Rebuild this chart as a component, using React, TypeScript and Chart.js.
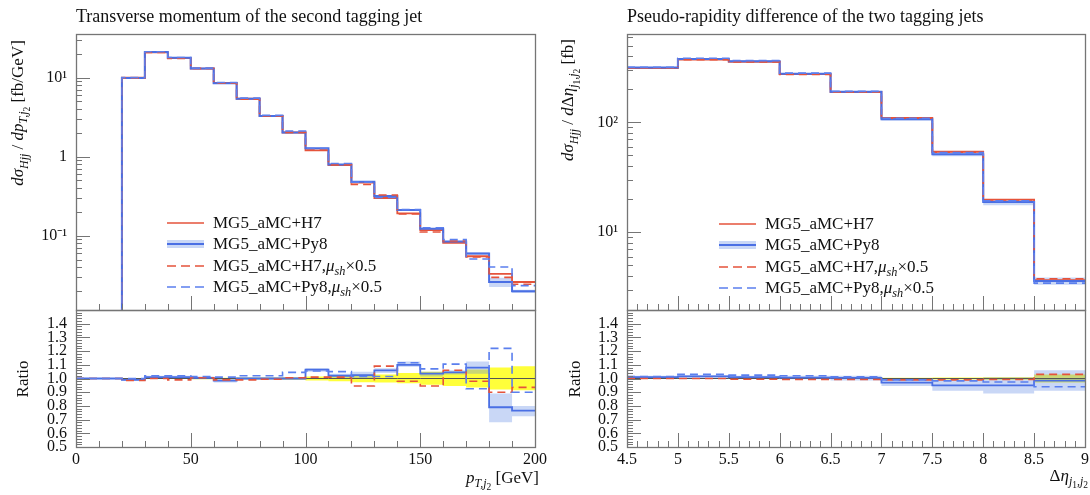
import React, { useEffect, useRef } from "react";
import { Chart, registerables } from "chart.js";

Chart.register(...registerables);

const FONT = "'Liberation Serif', 'Times New Roman', serif";
const W = 1090;
const H = 495;

// ---------------- Left panel: transverse momentum of the second tagging jet ----------------
const PT_EDGES = [0, 10, 20, 30, 40, 50, 60, 70, 80, 90, 100, 110, 120, 130, 140, 150, 160, 170, 180, 190, 200];
// MG5_aMC+H7 differential cross section [fb/GeV]
const PT_H7 = [0, 0, 10.0, 20.8, 17.6, 13.0, 8.6, 5.4, 3.28, 2.02, 1.2, 0.78, 0.47, 0.3, 0.192, 0.118, 0.081, 0.055, 0.033, 0.026];
// ratios to MG5_aMC+H7
const PT_R_H7 = [1, 1, 1, 1, 1, 1, 1, 1, 1, 1, 1, 1, 1, 1, 1, 1, 1, 1, 1, 1];
const PT_R_PY8 = [1, 1, 0.99, 1.01, 1.01, 1.005, 0.985, 1.0, 1.0, 1.0, 1.065, 1.02, 1.025, 1.06, 1.1, 1.035, 1.045, 1.08, 0.79, 0.765];
const PT_R_H7_HALF = [1, 1, 0.985, 1.0, 0.99, 1.005, 0.99, 0.99, 0.995, 1.005, 1.01, 1.01, 0.945, 1.09, 0.98, 0.945, 1.06, 0.98, 0.9, 0.935];
const PT_R_PY8_HALF = [1, 1, 1.0, 1.02, 1.02, 1.015, 1.01, 1.02, 1.02, 1.045, 1.055, 1.05, 1.015, 1.015, 1.115, 1.07, 1.105, 0.925, 1.22, 0.9];
const PT_H7_UNC_LO = [1, 1, 0.997, 0.997, 0.996, 0.995, 0.994, 0.993, 0.992, 0.99, 0.985, 0.98, 0.973, 0.97, 0.965, 0.955, 0.945, 0.935, 0.92, 0.915];
const PT_H7_UNC_HI = [1, 1, 1.003, 1.003, 1.004, 1.005, 1.006, 1.007, 1.008, 1.01, 1.015, 1.02, 1.027, 1.03, 1.04, 1.05, 1.05, 1.065, 1.08, 1.09];
const PT_PY8_UNC_LO = [1, 1, 0.985, 1.0, 1.0, 0.995, 0.97, 0.99, 0.99, 0.99, 1.05, 1.005, 1.0, 1.04, 1.085, 1.015, 1.03, 1.035, 0.68, 0.725];
const PT_PY8_UNC_HI = [1, 1, 0.995, 1.02, 1.02, 1.015, 1.0, 1.01, 1.01, 1.01, 1.075, 1.035, 1.05, 1.075, 1.125, 1.05, 1.06, 1.125, 0.89, 0.8];
const PT_X_TICKS = [0, 50, 100, 150, 200];
const PT_X_LABELS = ["0", "50", "100", "150", "200"];
const PT_Y_TICKS = [0.1, 1, 10];
const PT_Y_LABELS = ["10\u207B\u00B9", "1", "10\u00B9"];

// ---------------- Right panel: pseudo-rapidity difference of the two tagging jets ----------------
const DETA_EDGES = [4.5, 5, 5.5, 6, 6.5, 7, 7.5, 8, 8.5, 9];
// MG5_aMC+H7 differential cross section [fb]
const DETA_H7 = [312, 372, 356, 275, 189, 110, 54, 19.8, 3.66];
const DETA_R_H7 = [1, 1, 1, 1, 1, 1, 1, 1, 1];
const DETA_R_PY8 = [1.01, 1.015, 1.01, 1.007, 1.005, 0.97, 0.95, 0.95, 0.985];
const DETA_R_H7_HALF = [1.0, 1.0, 0.995, 0.993, 0.993, 0.99, 0.99, 0.993, 1.03];
const DETA_R_PY8_HALF = [1.015, 1.03, 1.025, 1.02, 1.012, 0.99, 0.983, 0.975, 0.94];
const DETA_H7_UNC_LO = [0.997, 0.997, 0.997, 0.997, 0.997, 0.995, 0.993, 0.99, 0.97];
const DETA_H7_UNC_HI = [1.003, 1.003, 1.003, 1.003, 1.003, 1.005, 1.007, 1.01, 1.03];
const DETA_PY8_UNC_LO = [1.0, 1.005, 1.0, 0.995, 0.985, 0.945, 0.91, 0.89, 0.91];
const DETA_PY8_UNC_HI = [1.02, 1.025, 1.02, 1.02, 1.02, 0.995, 0.99, 1.01, 1.06];
const DETA_X_TICKS = [4.5, 5, 5.5, 6, 6.5, 7, 7.5, 8, 8.5, 9];
const DETA_X_LABELS = ["4.5", "5", "5.5", "6", "6.5", "7", "7.5", "8", "8.5", "9"];
const DETA_Y_TICKS = [10, 100];
const DETA_Y_LABELS = ["10\u00B9", "10\u00B2"];

// ratio axis
const RATIO_TICKS = [0.5, 0.6, 0.7, 0.8, 0.9, 1.0, 1.1, 1.2, 1.3, 1.4];
const RATIO_LABELS = ["0.5", "0.6", "0.7", "0.8", "0.9", "1.0", "1.1", "1.2", "1.3", "1.4"];

const LEGEND_NAMES = ["MG5_aMC+H7", "MG5_aMC+Py8", "MG5_aMC+H7", "MG5_aMC+Py8"];

// ---------------- styles ----------------
const RED = "#e5533b";
const BLUE = "#4a6fe4";
const BLUE_DASH = "#5b7fee";
const BAND_BLUE = "rgba(100,140,230,0.35)";
const YELLOW = "#ffff3a";
const FRAME = "#757575";

const hist = (edges: number[], vals: number[]) => {
  const pts = vals.map((v, i) => ({ x: edges[i], y: v }));
  pts.push({ x: edges[edges.length - 1], y: vals[vals.length - 1] });
  return pts;
};
const pos = (v: number) => (v > 0 ? v : 1e-9); // empty bins lie below the log axis
const mul = (a: number[], b: number[]) => a.map((v, i) => pos(v * b[i]));

const stepLine = (data: any, color: string, width: number, dash: number[], order: number) => ({
  type: "line",
  data,
  borderColor: color,
  borderWidth: width,
  borderDash: dash,
  pointRadius: 0,
  stepped: "before",
  fill: false,
  order,
});
const bandPair = (edges: number[], lo: number[], hi: number[], color: string, order: number) => [
  { type: "line", data: hist(edges, hi), borderColor: "rgba(0,0,0,0)", borderWidth: 0, pointRadius: 0, stepped: "before", fill: false, order: order + 1 },
  { type: "line", data: hist(edges, lo), borderColor: "rgba(0,0,0,0)", borderWidth: 0, pointRadius: 0, stepped: "before", fill: "-1", backgroundColor: color, order },
];

const tickFont = { family: FONT, size: 16 };

const framePlugin = {
  id: "frameTicks",
  afterDatasetsDraw(chart: any, _args: any, opts: any) {
    const { ctx, chartArea: a } = chart;
    const xs = chart.scales.x;
    const ys = chart.scales.y;
    ctx.save();
    ctx.strokeStyle = FRAME;
    ctx.lineWidth = 1;
    ctx.beginPath();
    const h = (v: number, len: number) => {
      const y = ys.getPixelForValue(v);
      if (y <= a.top + 1 || y >= a.bottom - 1) return;
      const p = Math.round(y) + 0.5;
      ctx.moveTo(a.left, p);
      ctx.lineTo(a.left + len, p);
    };
    const vt = (v: number, len: number) => {
      const x = xs.getPixelForValue(v);
      if (x <= a.left + 1 || x >= a.right - 1) return;
      const p = Math.round(x) + 0.5;
      ctx.moveTo(p, a.bottom);
      ctx.lineTo(p, a.bottom - len);
    };
    (opts.yMinor || []).forEach((v: number) => h(v, 6));
    (opts.yMajor || []).forEach((v: number) => h(v, 14));
    (opts.xMinor || []).forEach((v: number) => vt(v, 6));
    (opts.xMajor || []).forEach((v: number) => vt(v, 14));
    ctx.stroke();
    ctx.lineWidth = 1.3;
    ctx.strokeRect(Math.round(a.left) + 0.5, Math.round(a.top) + 0.5, Math.round(a.right - a.left), Math.round(a.bottom - a.top));
    ctx.restore();
  },
};

const logMinor = (min: number, max: number) => {
  const out: number[] = [];
  for (let d = Math.floor(Math.log10(min)); d <= Math.ceil(Math.log10(max)); d++) {
    for (let m = 1; m <= 9; m++) out.push(m * Math.pow(10, d));
  }
  return out;
};
const linMinor = (min: number, max: number, step: number) => {
  const out: number[] = [];
  const n = Math.round((max - min) / step);
  for (let i = 0; i <= n; i++) out.push(+(min + i * step).toFixed(6));
  return out;
};

// chart area box in page pixels: left, top, right, bottom
function makeConfig(p: {
  datasets: any[];
  area: number[];
  xMin: number;
  xMax: number;
  xTicks: number[];
  xLabels: string[] | null;
  yType: string;
  yMin: number;
  yMax: number;
  yTicks: number[];
  yLabels: string[];
  frame: any;
}) {
  const [L, T, R, B] = p.area;
  const yW = 70;
  const xH = p.xLabels ? H - B : 0;
  const fitY = (s: any) => {
    s.width = yW;
    s.paddingLeft = s.paddingRight = s.paddingTop = s.paddingBottom = 0;
  };
  const fitX = (s: any) => {
    s.height = xH;
    s.paddingLeft = s.paddingRight = s.paddingTop = s.paddingBottom = 0;
  };
  return {
    type: "line",
    data: { datasets: p.datasets },
    plugins: [framePlugin],
    options: {
      responsive: false,
      animation: false,
      events: [],
      layout: { padding: { left: L - yW, top: T, right: W - R, bottom: H - B - xH }, autoPadding: false },
      plugins: {
        legend: { display: false },
        tooltip: { enabled: false },
        title: { display: false },
        frameTicks: p.frame,
      },
      scales: {
        x: {
          type: "linear",
          min: p.xMin,
          max: p.xMax,
          grid: { display: false, drawTicks: false },
          border: { display: false },
          ticks: {
            display: !!p.xLabels,
            autoSkip: false,
            maxRotation: 0,
            padding: 3,
            color: "#111",
            font: tickFont,
            callback: (_v: any, i: number) => (p.xLabels ? p.xLabels[i] : ""),
          },
          afterBuildTicks: (s: any) => {
            s.ticks = p.xTicks.map((v) => ({ value: v }));
          },
          afterFit: fitX,
        },
        y: {
          type: p.yType,
          min: p.yMin,
          max: p.yMax,
          grid: { display: false, drawTicks: false },
          border: { display: false },
          ticks: {
            autoSkip: false,
            padding: 9,
            color: "#111",
            font: tickFont,
            callback: (_v: any, i: number) => p.yLabels[i],
          },
          afterBuildTicks: (s: any) => {
            s.ticks = p.yTicks.map((v) => ({ value: v }));
          },
          afterFit: fitY,
        },
      },
    },
  };
}

function mainDatasets(edges: number[], h7: number[], rPy8: number[], rH7h: number[], rPy8h: number[], uLo: number[], uHi: number[]) {
  return [
    ...bandPair(edges, mul(h7, uLo), mul(h7, uHi), BAND_BLUE, 10),
    stepLine(hist(edges, h7.map(pos)), RED, 1.8, [], 4),
    stepLine(hist(edges, mul(h7, rPy8)), BLUE, 2, [], 3),
    stepLine(hist(edges, mul(h7, rH7h)), RED, 1.6, [8, 5], 2),
    stepLine(hist(edges, mul(h7, rPy8h)), BLUE_DASH, 1.6, [8, 5], 1),
  ];
}

function ratioDatasets(
  edges: number[], rH7: number[], rPy8: number[], rH7h: number[], rPy8h: number[],
  hLo: number[], hHi: number[], pLo: number[], pHi: number[]
) {
  return [
    ...bandPair(edges, hLo, hHi, YELLOW, 20),
    ...bandPair(edges, pLo, pHi, BAND_BLUE, 16),
    stepLine(hist(edges, rH7), "#555555", 1, [], 6),
    stepLine(hist(edges, rPy8), BLUE, 1.8, [], 4),
    stepLine(hist(edges, rH7h), RED, 1.6, [8, 5], 3),
    stepLine(hist(edges, rPy8h), BLUE_DASH, 1.6, [8, 5], 2),
  ];
}

const LEFT_MAIN_MIN = 0.0115;
const LEFT_MAIN_MAX = 35.6;
const RIGHT_MAIN_MIN = 1.96;
const RIGHT_MAIN_MAX = 637;

function LegendSample({ kind }: { kind: number }) {
  return (
    <svg width={37} height={12} style={{ display: "block", flex: "none" }}>
      {kind === 1 && <rect x={0} y={2} width={37} height={8} fill={BAND_BLUE} />}
      <line
        x1={0}
        y1={6}
        x2={37}
        y2={6}
        stroke={kind === 0 || kind === 2 ? RED : kind === 3 ? BLUE_DASH : BLUE}
        strokeWidth={kind === 1 ? 2 : 1.7}
        strokeDasharray={kind >= 2 ? "9 5" : undefined}
      />
    </svg>
  );
}

function Legend({ left, top }: { left: number; top: number }) {
  const rows = [0, 1, 2, 3];
  return (
    <div style={{ position: "absolute", left, top }}>
      {rows.map((k) => (
        <div key={k} style={{ position: "absolute", left: 0, top: k * 21.3 - 10, height: 20, display: "flex", alignItems: "center", whiteSpace: "nowrap", fontSize: 17 }}>
          <LegendSample kind={k} />
          <span style={{ marginLeft: 9, lineHeight: "20px", height: 20 }}>
            {LEGEND_NAMES[k]}
            {k >= 2 && (
              <>
                ,<i>μ</i>
                <span style={{ fontSize: "0.72em", position: "relative", top: 4 }}>
                  <i>sh</i>
                </span>
                ×0.5
              </>
            )}
          </span>
        </div>
      ))}
    </div>
  );
}

const rotated = (cx: number, cy: number): React.CSSProperties => ({
  position: "absolute",
  left: cx,
  top: cy,
  transform: "translate(-50%, -50%) rotate(-90deg)",
  whiteSpace: "nowrap",
  fontSize: 17,
  lineHeight: "20px",
});

const subS: React.CSSProperties = { fontSize: "0.7em" };

export default function App() {
  const c1 = useRef<HTMLCanvasElement>(null);
  const c2 = useRef<HTMLCanvasElement>(null);
  const c3 = useRef<HTMLCanvasElement>(null);
  const c4 = useRef<HTMLCanvasElement>(null);

  useEffect(() => {
    const charts: any[] = [];
    charts.push(
      new Chart(
        c1.current as any,
        makeConfig({
          datasets: mainDatasets(PT_EDGES, PT_H7, PT_R_PY8, PT_R_H7_HALF, PT_R_PY8_HALF, PT_PY8_UNC_LO, PT_PY8_UNC_HI),
          area: [76, 34, 535, 310],
          xMin: 0, xMax: 200, xTicks: PT_X_TICKS, xLabels: null,
          yType: "logarithmic", yMin: LEFT_MAIN_MIN, yMax: LEFT_MAIN_MAX, yTicks: PT_Y_TICKS, yLabels: PT_Y_LABELS,
          frame: { yMajor: PT_Y_TICKS, yMinor: logMinor(LEFT_MAIN_MIN, LEFT_MAIN_MAX), xMajor: PT_X_TICKS, xMinor: linMinor(0, 200, 10) },
        }) as any
      )
    );
    charts.push(
      new Chart(
        c2.current as any,
        makeConfig({
          datasets: ratioDatasets(PT_EDGES, PT_R_H7, PT_R_PY8, PT_R_H7_HALF, PT_R_PY8_HALF, PT_H7_UNC_LO, PT_H7_UNC_HI, PT_PY8_UNC_LO, PT_PY8_UNC_HI),
          area: [76, 310, 535, 447],
          xMin: 0, xMax: 200, xTicks: PT_X_TICKS, xLabels: PT_X_LABELS,
          yType: "linear", yMin: 0.5, yMax: 1.5, yTicks: RATIO_TICKS, yLabels: RATIO_LABELS,
          frame: { yMajor: RATIO_TICKS, yMinor: linMinor(0.5, 1.5, 0.02), xMajor: PT_X_TICKS, xMinor: linMinor(0, 200, 10) },
        }) as any
      )
    );
    charts.push(
      new Chart(
        c3.current as any,
        makeConfig({
          datasets: mainDatasets(DETA_EDGES, DETA_H7, DETA_R_PY8, DETA_R_H7_HALF, DETA_R_PY8_HALF, DETA_PY8_UNC_LO, DETA_PY8_UNC_HI),
          area: [627, 34, 1085, 310],
          xMin: 4.5, xMax: 9, xTicks: DETA_X_TICKS, xLabels: null,
          yType: "logarithmic", yMin: RIGHT_MAIN_MIN, yMax: RIGHT_MAIN_MAX, yTicks: DETA_Y_TICKS, yLabels: DETA_Y_LABELS,
          frame: { yMajor: DETA_Y_TICKS, yMinor: logMinor(RIGHT_MAIN_MIN, RIGHT_MAIN_MAX), xMajor: DETA_X_TICKS, xMinor: linMinor(4.5, 9, 0.1) },
        }) as any
      )
    );
    charts.push(
      new Chart(
        c4.current as any,
        makeConfig({
          datasets: ratioDatasets(DETA_EDGES, DETA_R_H7, DETA_R_PY8, DETA_R_H7_HALF, DETA_R_PY8_HALF, DETA_H7_UNC_LO, DETA_H7_UNC_HI, DETA_PY8_UNC_LO, DETA_PY8_UNC_HI),
          area: [627, 310, 1085, 447],
          xMin: 4.5, xMax: 9, xTicks: DETA_X_TICKS, xLabels: DETA_X_LABELS,
          yType: "linear", yMin: 0.5, yMax: 1.5, yTicks: RATIO_TICKS, yLabels: RATIO_LABELS,
          frame: { yMajor: RATIO_TICKS, yMinor: linMinor(0.5, 1.5, 0.02), xMajor: DETA_X_TICKS, xMinor: linMinor(4.5, 9, 0.1) },
        }) as any
      )
    );
    return () => charts.forEach((c) => c.destroy());
  }, []);

  const cv: React.CSSProperties = { position: "absolute", left: 0, top: 0, width: W, height: H };

  return (
    <div style={{ position: "fixed", left: 0, top: 0, width: W, height: H, background: "#fff", fontFamily: FONT, color: "#111", overflow: "hidden" }}>
      <canvas ref={c1} width={W} height={H} style={cv} />
      <canvas ref={c2} width={W} height={H} style={cv} />
      <canvas ref={c3} width={W} height={H} style={cv} />
      <canvas ref={c4} width={W} height={H} style={cv} />

      <div style={{ position: "absolute", left: 76, top: 5, fontSize: 18, lineHeight: "22px", whiteSpace: "nowrap" }}>
        Transverse momentum of the second tagging jet
      </div>
      <div style={{ position: "absolute", left: 627, top: 5, fontSize: 18, lineHeight: "22px", whiteSpace: "nowrap" }}>
        Pseudo-rapidity difference of the two tagging jets
      </div>

      <div style={rotated(23, 113)}>
        <i>dσ</i>
        <sub style={subS}><i>Hjj</i></sub>
        {" / "}
        <i>dp</i>
        <sub style={subS}>
          <i>T,j</i>
          <sub style={{ fontSize: "0.8em" }}>2</sub>
        </sub>
        {"  [fb/GeV]"}
      </div>
      <div style={rotated(573, 100)}>
        <i>dσ</i>
        <sub style={subS}><i>Hjj</i></sub>
        {" / "}
        <i>d</i>Δ<i>η</i>
        <sub style={subS}>
          <i>j</i>
          <sub style={{ fontSize: "0.8em" }}>1</sub>
          <i>,j</i>
          <sub style={{ fontSize: "0.8em" }}>2</sub>
        </sub>
        {"  [fb]"}
      </div>
      <div style={rotated(23, 379)}>Ratio</div>
      <div style={rotated(575, 379)}>Ratio</div>

      <div style={{ position: "absolute", right: W - 539, top: 468, fontSize: 17, lineHeight: "20px", whiteSpace: "nowrap" }}>
        <i>p</i>
        <sub style={subS}>
          <i>T,j</i>
          <sub style={{ fontSize: "0.8em" }}>2</sub>
        </sub>
        {" [GeV]"}
      </div>
      <div style={{ position: "absolute", right: W - 1088, top: 466, fontSize: 17, lineHeight: "20px", whiteSpace: "nowrap" }}>
        Δ<i>η</i>
        <sub style={subS}>
          <i>j</i>
          <sub style={{ fontSize: "0.8em" }}>1</sub>
          <i>,j</i>
          <sub style={{ fontSize: "0.8em" }}>2</sub>
        </sub>
      </div>

      <Legend left={167} top={223} />
      <Legend left={719} top={224} />
    </div>
  );
}
